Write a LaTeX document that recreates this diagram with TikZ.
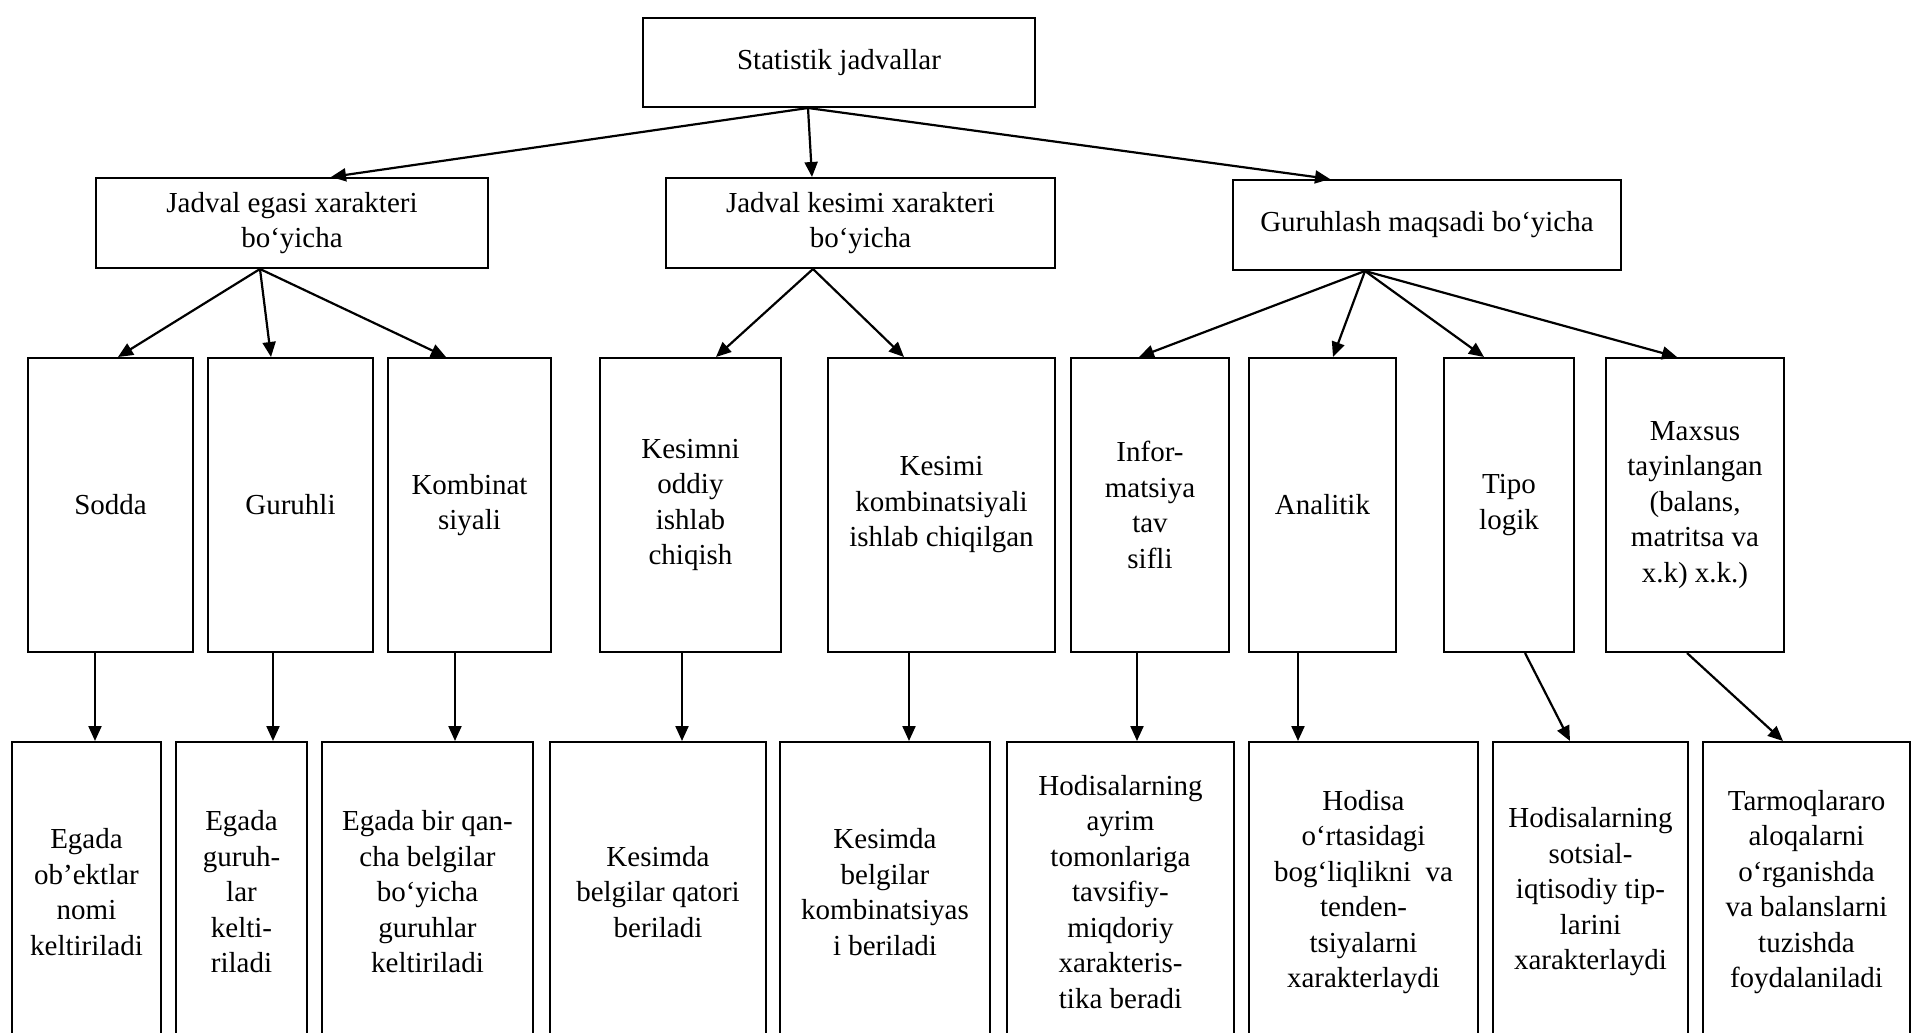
\documentclass[tikz,border=0pt]{standalone}
\usepackage{fontspec}
\setmainfont{Liberation Serif}
\usetikzlibrary{arrows.meta}
\begin{document}
\begin{tikzpicture}[x=0.5pt,y=-0.5pt,
  box/.style={draw, line width=1pt, inner sep=0pt, align=center,
    font=\fontsize{14.5pt}{17.75pt}\selectfont},
  tall/.style={box, minimum height=147pt},
  low/.style={box, minimum height=150pt},
  arr/.style={line width=1.1pt, -{Triangle[length=7.5pt,width=6.5pt]}}]
\useasboundingbox (0,0) rectangle (1913,1033);
\clip (0,0) rectangle (1913,1033);
% level 1
\node[box, minimum width=196pt, minimum height=44.5pt] (top) at (839,62.5) {Statistik jadvallar};
% level 2
\node[box, minimum width=196pt, minimum height=45pt] (la) at (292,223) {Jadval egasi xarakteri\\bo‘yicha};
\node[box, minimum width=194.5pt, minimum height=45pt] (lb) at (860.5,223) {Jadval kesimi xarakteri\\bo‘yicha};
\node[box, minimum width=194pt, minimum height=45pt] (lc) at (1427,225) {Guruhlash maqsadi bo‘yicha};
% level 3
\node[tall, minimum width=82.5pt] (sodda) at (110.5,505) {Sodda};
\node[tall, minimum width=82.5pt] (guruhli) at (290.5,505) {Guruhli};
\node[tall, minimum width=81.5pt] (komb) at (469.5,505) {Kombinat\\siyali};
\node[tall, minimum width=90.5pt] (kesimni) at (690.5,505) {Kesimni\\oddiy\\ishlab\\chiqish};
\node[tall, minimum width=113.5pt] (kesimi) at (941.5,505) {Kesimi\\kombinatsiyali\\ishlab chiqilgan};
\node[tall, minimum width=79pt] (infor) at (1150,505) {Infor-\\matsiya\\tav\\sifli};
\node[tall, minimum width=73.5pt] (anal) at (1322.5,505) {Analitik};
\node[tall, minimum width=65pt] (tipo) at (1509,505) {Tipo\\logik};
\node[tall, minimum width=89pt] (maxsus) at (1695,505) {Maxsus\\tayinlangan\\(balans,\\matritsa va\\x.k) x.k.)};
% level 4
\node[low, minimum width=74.5pt] (b1) at (86.5,892) {Egada\\ob’ektlar\\nomi\\keltiriladi};
\node[low, minimum width=65.5pt] (b2) at (241.5,892) {Egada\\guruh-\\lar\\kelti-\\riladi};
\node[low, minimum width=105.5pt] (b3) at (427.5,892) {Egada bir qan-\\cha belgilar\\bo‘yicha\\guruhlar\\keltiriladi};
\node[low, minimum width=108pt] (b4) at (658,892) {Kesimda\\belgilar qatori\\beriladi};
\node[low, minimum width=105pt] (b5) at (885,892) {Kesimda\\belgilar\\kombinatsiyas\\i beriladi};
\node[low, minimum width=113.5pt] (b6) at (1120.5,892) {Hodisalarning\\ayrim\\tomonlariga\\tavsifiy-\\miqdoriy\\xarakteris-\\tika beradi};
\node[low, minimum width=114.5pt] (b7) at (1363.5,892) {Hodisa\\o‘rtasidagi\\bog‘liqlikni\ \ va\\tenden-\\tsiyalarni\\xarakterlaydi};
\node[low, minimum width=97.5pt] (b8) at (1590.5,892) {Hodisalarning\\sotsial-\\iqtisodiy tip-\\larini\\xarakterlaydi};
\node[low, minimum width=103.5pt] (b9) at (1806.5,892) {Tarmoqlararo\\aloqalarni\\o‘rganishda\\va balanslarni\\tuzishda\\foydalaniladi};
% arrows level 1 -> 2
\draw[arr] ([xshift=-15.5pt]top.south) -- ([xshift=19.5pt]la.north);
\draw[arr] ([xshift=-15.5pt]top.south) -- ([xshift=-24.25pt]lb.north);
\draw[arr] ([xshift=-15.5pt]top.south) -- ([xshift=-48.5pt]lc.north);
% level 2 -> 3
\draw[arr] ([xshift=-16pt]la.south) -- ([xshift=3.75pt]sodda.north);
\draw[arr] ([xshift=-16pt]la.south) -- ([xshift=-9.75pt]guruhli.north);
\draw[arr] ([xshift=-16pt]la.south) -- ([xshift=-11.75pt]komb.north);
\draw[arr] ([xshift=-23.75pt]lb.south) -- ([xshift=12.75pt]kesimni.north);
\draw[arr] ([xshift=-23.75pt]lb.south) -- ([xshift=-18.75pt]kesimi.north);
\draw[arr] ([xshift=-31pt]lc.south) -- ([xshift=-5.5pt]infor.north);
\draw[arr] ([xshift=-31pt]lc.south) -- ([xshift=5.25pt]anal.north);
\draw[arr] ([xshift=-31pt]lc.south) -- ([xshift=-12.5pt]tipo.north);
\draw[arr] ([xshift=-31pt]lc.south) -- ([xshift=-9pt]maxsus.north);
% level 3 -> 4
\draw[arr] ([xshift=-7.75pt]sodda.south) -- ([xshift=-7.75pt]sodda.south |- b1.north);
\draw[arr] ([xshift=-8.75pt]guruhli.south) -- ([xshift=-8.75pt]guruhli.south |- b2.north);
\draw[arr] ([xshift=-7.25pt]komb.south) -- ([xshift=-7.25pt]komb.south |- b3.north);
\draw[arr] ([xshift=-4.25pt]kesimni.south) -- ([xshift=-4.25pt]kesimni.south |- b4.north);
\draw[arr] ([xshift=-16.25pt]kesimi.south) -- ([xshift=-16.25pt]kesimi.south |- b5.north);
\draw[arr] ([xshift=-6.5pt]infor.south) -- ([xshift=-6.5pt]infor.south |- b6.north);
\draw[arr] ([xshift=-12.25pt]anal.south) -- ([xshift=-12.25pt]anal.south |- b7.north);
\draw[arr] ([xshift=8pt]tipo.south) -- ([xshift=-10.25pt]b8.north);
\draw[arr] ([xshift=-4pt]maxsus.south) -- ([xshift=-11.75pt]b9.north);
\end{tikzpicture}
\end{document}
